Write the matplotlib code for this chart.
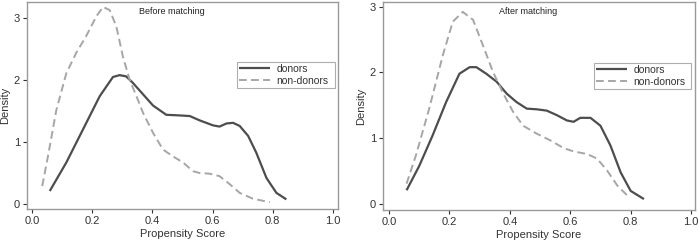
import matplotlib
matplotlib.use("Agg")
import matplotlib.pyplot as plt

plt.rcParams['font.family'] = ['Liberation Sans', 'DejaVu Sans']

# Before matching
before_donors_x = [0.059, 0.114, 0.169, 0.225, 0.269, 0.291, 0.313, 0.336, 0.369, 0.402, 0.446, 0.49, 0.524, 0.557, 0.601, 0.623, 0.646, 0.668, 0.69, 0.718, 0.745, 0.779, 0.812, 0.845]
before_donors_y = [0.21, 0.67, 1.20, 1.74, 2.05, 2.08, 2.06, 1.95, 1.77, 1.59, 1.44, 1.43, 1.42, 1.35, 1.27, 1.25, 1.30, 1.31, 1.26, 1.10, 0.83, 0.42, 0.18, 0.075]
before_non_x = [0.034, 0.053, 0.081, 0.114, 0.147, 0.18, 0.214, 0.236, 0.258, 0.28, 0.302, 0.324, 0.347, 0.369, 0.402, 0.435, 0.468, 0.502, 0.535, 0.557, 0.59, 0.623, 0.657, 0.69, 0.734, 0.79]
before_non_y = [0.29, 0.77, 1.52, 2.11, 2.44, 2.71, 3.03, 3.18, 3.13, 2.87, 2.38, 2.01, 1.74, 1.47, 1.15, 0.88, 0.77, 0.67, 0.53, 0.50, 0.49, 0.45, 0.32, 0.18, 0.086, 0.03]

# After matching
after_donors_x = [0.058, 0.1, 0.144, 0.189, 0.233, 0.267, 0.289, 0.322, 0.356, 0.389, 0.422, 0.456, 0.489, 0.522, 0.556, 0.589, 0.611, 0.633, 0.667, 0.7, 0.733, 0.767, 0.8, 0.844]
after_donors_y = [0.21, 0.58, 1.04, 1.55, 1.98, 2.08, 2.08, 1.98, 1.86, 1.68, 1.55, 1.45, 1.44, 1.42, 1.35, 1.27, 1.25, 1.31, 1.31, 1.19, 0.89, 0.48, 0.20, 0.076]
after_non_x = [0.058, 0.089, 0.133, 0.178, 0.211, 0.244, 0.278, 0.311, 0.344, 0.378, 0.411, 0.444, 0.489, 0.533, 0.578, 0.611, 0.656, 0.689, 0.722, 0.756, 0.789]
after_non_y = [0.31, 0.74, 1.45, 2.26, 2.77, 2.92, 2.80, 2.41, 2.01, 1.68, 1.40, 1.19, 1.07, 0.97, 0.85, 0.80, 0.76, 0.69, 0.51, 0.28, 0.13]

titles = ["Before matching", "After matching"]
series_labels = ["donors", "non-donors"]
xticks = [0.0, 0.2, 0.4, 0.6, 0.8, 1.0]
yticks = [0, 1, 2, 3]

W, H = 699, 242
fig = plt.figure(figsize=(W / 100, H / 100), dpi=100)

frame_col = '#9a9a9a'
text_col = '#333333'
donor_col = '#4d4d4d'
non_col = '#a6a6a6'

panels = [
    dict(box=(27, 338, 2, 209), ylim=(-0.08, 3.26), xlim=(-0.0166, 1.0166),
         d=(before_donors_x, before_donors_y), n=(before_non_x, before_non_y),
         title=titles[0], leg=(237, 335, 90, 118)),
    dict(box=(383, 695, 2, 210), ylim=(-0.09, 3.07), xlim=(-0.02, 1.013),
         d=(after_donors_x, after_donors_y), n=(after_non_x, after_non_y),
         title=titles[1], leg=(594, 691, 91, 119)),
]

for p in panels:
    l, r, t, b = p['box']
    ax = fig.add_axes([l / W, 1 - b / H, (r - l) / W, (b - t) / H])
    ax.plot(*p['d'], color=donor_col, lw=1.6, label=series_labels[0],
            solid_joinstyle='round', solid_capstyle='butt')
    ax.plot(*p['n'], color=non_col, lw=1.4, ls=(0, (4, 2.2)), label=series_labels[1],
            dash_joinstyle='round')
    ax.set_xlim(*p['xlim'])
    ax.set_ylim(*p['ylim'])
    ax.set_xticks(xticks)
    ax.set_xticklabels([f"{v:.1f}" for v in xticks])
    ax.set_yticks(yticks)
    ax.tick_params(labelsize=8, colors=text_col, length=3, width=0.8, pad=2)
    for s in ax.spines.values():
        s.set_color(frame_col)
        s.set_linewidth(1.0)
    ax.set_xlabel("Propensity Score", fontsize=8, color=text_col, labelpad=2)
    ax.set_ylabel("Density", fontsize=8, color=text_col, labelpad=3)
    ax.text(0.465, 0.955, p['title'], transform=ax.transAxes, ha='center', va='center',
            fontsize=6.5, color='#222222')
    ll, lr, lt, lb = p['leg']
    lg = ax.legend(loc='upper left',
                   bbox_to_anchor=((ll - l) / (r - l), 1 - (lt - t) / (b - t),
                                   (lr - ll) / (r - l), (lb - lt) / (b - t)),
                   mode='expand', fontsize=7.5, frameon=True, fancybox=False,
                   handlelength=3.0, handletextpad=0.6, borderpad=0.2,
                   labelspacing=0.15, borderaxespad=0)
    lg.get_frame().set_edgecolor(frame_col)
    lg.get_frame().set_linewidth(0.8)
    for txt in lg.get_texts():
        txt.set_color(text_col)

fig.savefig("out.png", dpi=100)
